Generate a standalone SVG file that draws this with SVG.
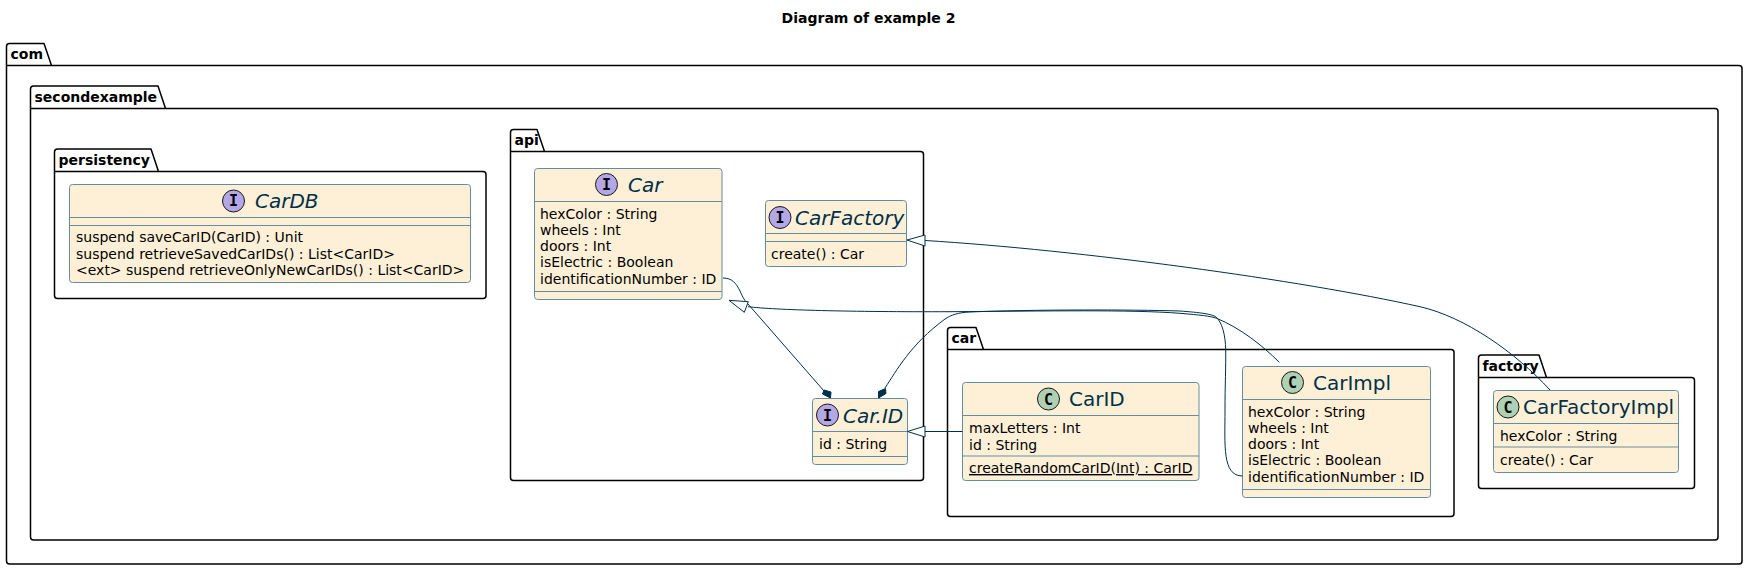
<svg xmlns="http://www.w3.org/2000/svg" width="1748" height="570" viewBox="0 0 1748 570">
<style>
text{font-family:"DejaVu Sans",sans-serif;fill:#000}
.t{font-size:14px;font-weight:bold}
.p{fill:#fff;stroke:#000;stroke-width:1.5;stroke-linejoin:round}
.b{fill:#FEF0D7;stroke:#668D9F;stroke-width:1}
.l{stroke:#668D9F;stroke-width:1;fill:none}
.n{font-size:20px;fill:#003049}
.i{font-style:italic}
.m{font-size:14px}
.c{stroke:#181818;stroke-width:1}
.ci{fill:#B4A7E5}.cc{fill:#ADD1B2}
.g{font-size:15px;font-weight:bold;font-family:"DejaVu Sans Mono",monospace}
.e{fill:none;stroke:#003049;stroke-width:1}
.h{fill:#fff;stroke:#003049;stroke-width:1}
.d{fill:#003049;stroke:#003049;stroke-width:1}
</style>
<text x="868.5" y="23" text-anchor="middle" class="t">Diagram of example 2</text>
<g id="pkg-com"><path class="p" d="M6.5,65.5V46.5q0,-3 3,-3H44l7.500,22H1739q3,0 3,3V561q0,3 -3,3H9.500q-3,0 -3,-3V65.500H51.500"/><text x="10.500" y="59" class="t">com</text></g>
<g id="pkg-secondexample"><path class="p" d="M30.500,108.500V89q0,-3 3,-3H158l7.500,22.500H1715q3,0 3,3V537q0,3 -3,3H33.500q-3,0 -3,-3V108.500H165.500"/><text x="34.500" y="102" class="t">secondexample</text></g>
<g id="pkg-persistency"><path class="p" d="M54.500,171.500V152q0,-3 3,-3H151l7.500,22.500H483q3,0 3,3V295.500q0,3 -3,3H57.500q-3,0 -3,-3V171.500H158.500"/><text x="58.500" y="165" class="t">persistency</text></g>
<g id="pkg-api"><path class="p" d="M510.500,151.500V132.500q0,-3 3,-3H537l7.500,22H920.500q3,0 3,3V477.500q0,3 -3,3H513.500q-3,0 -3,-3V151.500H544.500"/><text x="514.500" y="145" class="t">api</text></g>
<g id="pkg-car"><path class="p" d="M947.500,349.500V330.500q0,-3 3,-3H976l7.500,22H1451q3,0 3,3V513.500q0,3 -3,3H950.500q-3,0 -3,-3V349.500H983.500"/><text x="951.500" y="343" class="t">car</text></g>
<g id="pkg-factory"><path class="p" d="M1478.500,377.500V358q0,-3 3,-3H1539l7.500,22.500H1691.500q3,0 3,3V485.500q0,3 -3,3H1481.500q-3,0 -3,-3V377.500H1546.500"/><text x="1482.500" y="371" class="t">factory</text></g>

<g id="CarDB"><rect class="b" x="69.500" y="184.500" width="401" height="98" rx="3"/><path class="l" d="M69.500,217.500H470.500M69.500,225.500H470.500"/><circle class="c ci" cx="233.500" cy="201" r="11"/><text x="233.500" y="206" text-anchor="middle" class="g">I</text><text x="255" y="208" class="n i">CarDB</text><text x="76" y="242" class="m">suspend saveCarID(CarID) : Unit</text><text x="76" y="259" class="m">suspend retrieveSavedCarIDs() : List&lt;CarID&gt;</text><text x="76" y="275" class="m">&lt;ext&gt; suspend retrieveOnlyNewCarIDs() : List&lt;CarID&gt;</text></g>

<g id="Car"><rect class="b" x="534.500" y="168.500" width="187.500" height="131" rx="3"/><path class="l" d="M534.500,201.500H722M534.500,291.500H722"/><circle class="c ci" cx="606.500" cy="184.500" r="11"/><text x="606.500" y="190" text-anchor="middle" class="g">I</text><text x="628" y="192" class="n i">Car</text><text x="540" y="219" class="m">hexColor : String</text><text x="540" y="235" class="m">wheels : Int</text><text x="540" y="251" class="m">doors : Int</text><text x="540" y="267" class="m">isElectric : Boolean</text><text x="540" y="284" class="m">identificationNumber : ID</text></g>

<g id="CarFactory"><rect class="b" x="765.500" y="200.500" width="141" height="66" rx="3"/><path class="l" d="M765.500,233.500H906.500M765.500,241.500H906.500"/><circle class="c ci" cx="780" cy="217.500" r="11"/><text x="780" y="223" text-anchor="middle" class="g">I</text><text x="795" y="225" class="n i">CarFactory</text><text x="771" y="259" class="m">create() : Car</text></g>

<g id="Car.ID"><rect class="b" x="812.500" y="398.500" width="95" height="66" rx="3"/><path class="l" d="M812.500,431.500H907.500M812.500,456.500H907.500"/><circle class="c ci" cx="827.500" cy="415" r="11"/><text x="827.500" y="420.500" text-anchor="middle" class="g">I</text><text x="843" y="423" class="n i">Car.ID</text><text x="819" y="449" class="m">id : String</text></g>

<g id="CarID"><rect class="b" x="962.500" y="382.500" width="236.500" height="98" rx="3"/><path class="l" d="M962.500,415.500H1199M962.500,456H1199"/><circle class="c cc" cx="1048.500" cy="399" r="11"/><text x="1048.500" y="404.500" text-anchor="middle" class="g">C</text><text x="1069" y="406" class="n">CarID</text><text x="969" y="433" class="m">maxLetters : Int</text><text x="969" y="450" class="m">id : String</text><text x="969" y="473" class="m" text-decoration="underline">createRandomCarID(Int) : CarID</text></g>

<g id="CarImpl"><rect class="b" x="1242.500" y="366.500" width="188" height="131" rx="3"/><path class="l" d="M1242.500,399.500H1430.500M1242.500,489.500H1430.500"/><circle class="c cc" cx="1292.500" cy="382.500" r="11"/><text x="1292.500" y="388" text-anchor="middle" class="g">C</text><text x="1313" y="390" class="n">CarImpl</text><text x="1248" y="417" class="m">hexColor : String</text><text x="1248" y="433" class="m">wheels : Int</text><text x="1248" y="449" class="m">doors : Int</text><text x="1248" y="465" class="m">isElectric : Boolean</text><text x="1248" y="482" class="m">identificationNumber : ID</text></g>

<g id="CarFactoryImpl"><rect class="b" x="1493.500" y="390.500" width="185" height="82" rx="3"/><path class="l" d="M1493.500,423.500H1678.500M1493.500,447H1678.500"/><circle class="c cc" cx="1508" cy="407" r="11"/><text x="1508" y="412.500" text-anchor="middle" class="g">C</text><text x="1523" y="414" class="n">CarFactoryImpl</text><text x="1500" y="441" class="m">hexColor : String</text><text x="1500" y="465" class="m">create() : Car</text></g>

<g id="connectors">
<path class="e" d="M723,278C732,278 736,283 740,291C743,298 745,301 748,304L824,391"/>
<path class="d" d="M830.500,398L831,392L824,390L822.500,394Z"/>
<path class="e" d="M1242.500,476C1222,476 1225,445 1225,410C1225,385 1226,365 1225.700,350C1225.500,335 1222,322 1216,317C1212,314 1200,312.500 1180,311C1130,309.500 1030,309.500 970,312C958,312.500 951,315 945,319C910,345 897,370 885,388"/>
<path class="d" d="M878.500,398L886,393.500L885.500,388.500L878.500,391.500Z"/>
<path class="e" d="M748,306.700C775,310 850,312 950,311.700C1050,311 1130,309.500 1180,313.300C1200,315 1210,316 1216.700,318.300C1240,328 1262,345 1279.300,362.300"/>
<path class="h" d="M729,300.300L748.300,301.700L744.300,312.300Z"/>
<path class="e" d="M925,240.500C1080,250 1300,280 1420,306.700C1465,317 1515,352 1550,390"/>
<path class="h" d="M907,240L925,235V246Z"/>
<path class="e" d="M925,431.500H962.500"/>
<path class="h" d="M907.500,431.500L925,426V437Z"/>
</g>
</svg>
